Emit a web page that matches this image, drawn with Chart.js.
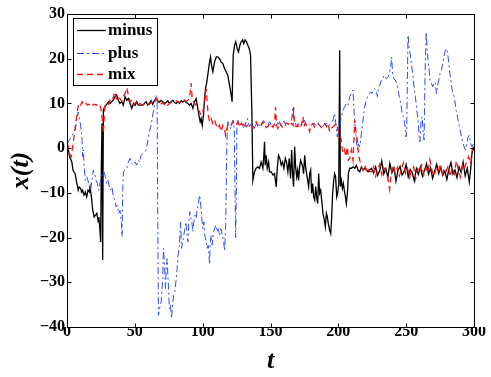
<!DOCTYPE html>
<html><head><meta charset="utf-8">
<script src="https://cdn.jsdelivr.net/npm/chart.js@4.4.1/dist/chart.umd.min.js"></script>
<style>html,body{margin:0;padding:0;background:#fff;}#wrap{width:491px;height:377px;}</style>
</head><body>
<div id="wrap"><canvas id="c" width="491" height="377"></canvas></div>
<script>
const seriesLabels = ['minus', 'plus', 'mix'];
const xTicks = [0, 50, 100, 150, 200, 250, 300];
const yTicks = [-40, -30, -20, -10, 0, 10, 20, 30];

const minusPoints = [[0,1.0],[1,-0.4],[2,-2],[3.5,-3],[4.5,-5],[6,-5.7],[7,-7.5],[8.3,-9.4],[9,-8.7],[10,-9],[10.8,-9.8],[11.5,-9.4],[12.5,-10.5],[13.5,-9.8],[14.5,-10.9],[15.5,-9.4],[16.5,-9.8],[17,-8.7],[18,-10.9],[19,-13.9],[20,-15.4],[21,-15],[22,-14.6],[23,-16.5],[23.5,-15.4],[24.3,-18.3],[24.8,-21],[25.3,-4.2],[25.8,5.5],[26.3,-25],[26.8,8.5],[27.8,9.2],[28.8,9.6],[29.8,10],[30.7,10.4],[31.7,10],[33,10.4],[34,10.7],[35.4,11.5],[36.6,11.9],[37.9,10.7],[39,10],[40.3,10.4],[41.5,9.6],[42.8,11.5],[44,10.7],[45.2,11.1],[46.5,10],[47.7,8.9],[49,10],[50.2,9.6],[51.4,10.4],[52.6,9.6],[55.9,9.6],[58.3,10.4],[59.5,9.6],[60.8,10],[62,10.6],[63.2,9.8],[64.5,10.7],[65.7,11.1],[66.9,10.6],[68.2,10.3],[69.4,10.7],[70.6,10.4],[71.9,10],[73.1,10.2],[74.3,10.6],[75.5,10],[76.8,10.4],[78,10.7],[79.2,10.2],[80.5,10],[81.7,10.4],[82.9,10],[84.2,10.6],[85.4,10.3],[86.6,10.7],[87.8,10.2],[89.1,10],[90.3,9.6],[91.5,10],[92.8,8.9],[94,10.4],[95.2,11.1],[96.4,8.9],[97.2,7.4],[98.2,5.9],[98.9,6.6],[99.7,5.1],[100.6,7.4],[101.4,11.1],[102.1,13.3],[103.1,14.8],[104.1,17.1],[105.1,19.3],[105.8,20.4],[106.5,18.6],[107.5,17.1],[108.8,19.3],[110,20.4],[111.2,20.4],[112.4,20],[113.6,19.3],[114.9,18.9],[116.1,17.8],[117.3,17.1],[118.5,16.3],[119.8,14.1],[121,11.9],[121.7,10.4],[122.5,20.8],[123.5,23],[124.4,23.8],[125.4,22.3],[126.4,21.5],[127.4,23],[128.4,23.8],[129.4,24.2],[130.3,23.4],[131.3,24.2],[132.3,23.8],[133.3,23],[134.3,22.3],[135.3,20.8],[136.3,7.4],[137,-7.2],[138.2,-5.3],[139.4,-4.5],[140.7,-4.2],[141.9,-4.5],[143.1,-3.1],[144.4,-4.5],[145.1,-1.6],[145.6,1.4],[146.1,-3.8],[146.8,-1.6],[147.6,-4.5],[148.6,-3.1],[149.3,-5.3],[150.5,-5.3],[151.8,-6],[153,-5.7],[154.2,-8.7],[155,-4.5],[155.9,-1.6],[156.9,-2.3],[157.9,-3.8],[158.9,-3.1],[159.9,-4.5],[160.9,-2.3],[161.8,-3.1],[162.8,-5.3],[163.8,-2.3],[164.8,-6.8],[165.6,-0.4],[166.3,-5.7],[167,-8.6],[167.8,0.3],[168.5,-4.2],[169.3,-6.4],[170,-4.9],[170.7,-7.2],[171.5,-4.2],[172.2,-2.7],[173,-3.4],[173.7,-4.2],[174.4,-5.7],[175.2,-1.6],[175.9,-4.2],[176.6,-5.7],[177.4,-7.2],[178.1,-8.6],[178.9,-5.7],[179.6,-4.9],[180.3,-10.1],[181.1,-7.9],[181.8,-10.9],[182.6,-11.6],[183.3,-8.6],[184,-10.9],[184.8,-12.4],[185.5,-5.7],[186.2,-10.1],[187,-9.4],[187.7,-11.6],[188.7,-14.6],[189.7,-16.1],[190.4,-17.6],[191.2,-14.6],[191.9,-15.4],[192.6,-16.9],[193.6,-18.3],[194.4,-19.1],[195.1,-15.4],[195.8,-10.1],[196.6,-7.2],[197.3,-5.7],[198,-6.4],[198.8,-10.9],[199.5,-10.1],[200.3,-7.9],[201,21.9],[201.5,-8.6],[202.2,-7.2],[203,-9],[203.7,-7.9],[204.4,-9.4],[205.2,-10.9],[205.9,-12.4],[206.7,-10.1],[207.4,-5.7],[208.4,-4.5],[209.6,-4.5],[210.8,-4.2],[212.1,-4.5],[213.3,-3.8],[214.5,-4.9],[215.8,-5.3],[217,-4.2],[218.2,-4.9],[219.4,-4.5],[220.7,-4.9],[221.9,-5.3],[223.1,-4.9],[224.5,-4.5],[226,-5.6],[227.5,-4.2],[229,-6.1],[230.5,-5],[232,-2.9],[233.5,-5.8],[235,-4.6],[236.5,-6.5],[238,-3.4],[239.5,-5.5],[241,-4.4],[242.5,-7.4],[244,-5],[245.5,-4.1],[247,-6],[248.5,-5.2],[250,-3.7],[251.5,-6.4],[253,-4.8],[254.5,-5.5],[256,-7.3],[257.5,-4.6],[259,-5.9],[260.5,-4.2],[262,-6.3],[263.5,-5],[265,-3.5],[266.5,-5.8],[268,-4.4],[269.5,-6.8],[271,-5.2],[272.5,-3.6],[274,-5.7],[275.5,-4.3],[277,-6.1],[278.5,-5.1],[280,-7],[281.5,-4.7],[283,-3.2],[284.5,-5.8],[286,-4.9],[287.5,-6.6],[289,-4.2],[290.5,-5.4],[292,-3.1],[293.5,-6.2],[295,-4.5],[296.5,-7.5],[297.5,-4.8],[298.5,-1.2],[300,0.3]];

const plusPoints = [[0,1.0],[1.6,1.8],[3.2,2.5],[4.6,3.3],[6.1,4],[7.1,6.3],[8.1,8.1],[9.1,7],[10.1,4.8],[11.1,1.8],[11.5,-1.9],[12,-0.4],[12.5,-3.4],[13.5,-7.2],[14.5,-6.4],[15.5,-7.2],[16.5,-8.7],[17.4,-9.4],[18.4,-7.2],[19.4,-4.9],[20.4,-5.7],[21.4,-7.2],[22.4,-7.9],[23.3,-9.4],[24.3,-7.9],[25.3,-6.4],[26.3,-5.7],[27.3,-5.3],[28.3,-6.4],[29.2,-7.9],[30.2,-7.2],[31.2,-8.7],[32.2,-9.4],[33.2,-8.7],[34.2,-10.9],[35.2,-11.6],[36.2,-13.1],[37.1,-12.7],[38.1,-14.6],[39.1,-13.9],[40.1,-16.9],[40.6,-19.8],[41.1,-9.4],[41.6,-5.3],[42.8,-4.9],[44,-4.6],[45.2,-3.1],[46.5,-2.3],[47.7,-3.4],[48.9,-3.8],[50.2,-3.1],[51.4,-3.8],[52.6,-2.7],[53.8,-3.1],[54.6,-1.6],[55.9,-1.2],[57.1,-0.8],[58.3,-0.4],[59.5,1.4],[60.8,3.7],[62,5.1],[63.2,7.4],[64.5,9.6],[65.7,11.5],[66.4,11.9],[66.9,-15],[67.4,-37.4],[68.2,-35.9],[69.4,-34.4],[70.6,-29],[71.1,-22.4],[71.9,-26],[72.6,-31.4],[73.1,-27],[73.8,-24.7],[74.6,-29.9],[75.5,-35.9],[76.3,-35.1],[77,-38.1],[78,-34.4],[78.7,-32.9],[79.5,-32.1],[80.5,-29.2],[81.2,-26.9],[81.9,-23.9],[82.9,-21.7],[83.7,-16.5],[84.4,-22.4],[85.4,-20.9],[86.1,-19.5],[86.9,-18],[87.6,-16.5],[88.3,-18.7],[89.1,-21],[89.8,-16.5],[90.5,-14.2],[91.3,-15.7],[92,-16.5],[92.8,-18.7],[93.5,-16.5],[94.2,-15],[95.2,-15.7],[96,-13.5],[96.7,-12.8],[97.7,-10.5],[98.4,-12],[99.2,-15],[100.1,-18],[100.9,-16.5],[101.6,-19.5],[102.6,-21],[103.3,-22.4],[104.1,-21.7],[105.1,-26],[105.6,-21],[106.3,-19.5],[107,-21.7],[108,-18.7],[108.8,-18],[109.5,-17.2],[110.5,-18.7],[111.5,-18],[112.4,-19.5],[113.5,-18],[114.5,-19.5],[115.5,-21],[116.2,-23],[117,-17],[117.5,-5],[118,2.5],[118.5,5.9],[119.5,5.1],[120.5,4.4],[121.5,5.5],[122.5,6.3],[123.3,4.4],[123.8,-8],[124.3,-20],[124.8,-10],[125.3,5.5],[126,6.3],[127,5.1],[128.5,5.9],[130,4.6],[131.5,5.4],[133,6.6],[134.5,4.8],[136,5.5],[137.5,4.1],[139,5.2],[140.5,5.8],[142,4.9],[143.5,5.6],[145,6.2],[146.5,4.7],[148,5.3],[149.5,5.9],[151,4.6],[152.5,5.4],[154,5],[155.5,5.7],[157,4.8],[158.5,5.5],[160,6.1],[161.5,4.9],[163,5.3],[164.5,5.6],[165.5,6.3],[166.6,9.2],[167.5,6.2],[169,5.1],[170.5,5.5],[172,4.9],[173.5,5.3],[175,6.3],[176.5,5.1],[178,5.5],[179.5,4.8],[181,5.3],[182.5,5.5],[184,4.9],[185.5,5.6],[187,5.2],[188.5,4.8],[190,5.4],[191.5,5.5],[193,5],[194.5,5.6],[196.1,6.3],[197.3,7.8],[198.5,4.5],[199.3,2.5],[200,4],[201,4.8],[202.2,7],[203.4,8.5],[204.6,9.2],[205.9,10],[207.1,9.6],[208.4,11.5],[209.6,12.2],[210.8,13],[211.5,8.5],[212.3,4.8],[213.3,1.8],[214,-0.4],[214.8,1],[215.8,0.3],[217,3.3],[218.2,6.3],[219.4,9.2],[220.7,10.7],[221.9,11.9],[223.1,12.2],[223.8,12.6],[224.8,12.2],[225.8,13],[226.8,13.3],[227.8,13],[228.8,11.5],[229.7,13.7],[230.7,14.1],[231.7,15.2],[232.7,15.5],[233.7,16.3],[234.7,15.9],[235.6,15.5],[236.6,15.9],[237.6,16.7],[238.6,18.2],[239.3,20.4],[240.1,16.1],[241.1,15.5],[242,15.2],[243,14.5],[244,13],[245,11.5],[246,10],[247,7.8],[247.9,7.1],[248.9,5.5],[249.9,2.5],[250.4,4],[250.9,15.9],[251.4,25.3],[252.1,22.6],[252.9,21.2],[253.8,18.9],[254.8,16.7],[255.8,13.7],[256.8,11.5],[257.8,8.5],[258.8,6.3],[259.5,2.5],[260.2,1.4],[261,6.3],[261.7,7],[262.5,4],[263.2,1.8],[263.9,16],[264.7,26],[265.4,22.6],[266.1,19.7],[266.9,17.5],[267.6,15.2],[268.6,14.5],[269.6,13.7],[270.6,14.8],[271.6,14.5],[272.3,12.2],[273,13.7],[274,15.2],[275,16.7],[276,17.5],[277,19],[277.9,20.4],[278.9,21.9],[279.9,22.3],[280.9,20.4],[281.9,17.5],[282.9,15.2],[283.9,13],[284.8,12.2],[285.8,10.7],[286.8,8.5],[287.8,7],[288.8,5.5],[289.8,4],[290.7,2.5],[291.7,1.4],[292.7,0.3],[293.7,-0.4],[294.7,1],[295.7,2.5],[296.6,2.9],[297.6,1],[298.6,0.3],[299.6,1],[300,1.5]];

const mixPoints = [[0,1.0],[1.2,0.3],[2.2,-1.6],[3.2,-1.9],[4.2,0.3],[5.1,2.5],[6.1,4.8],[7.1,7],[8.1,9.2],[9.1,10],[10.1,9.6],[11.1,10.4],[12,10],[13,9.6],[14,10],[15,9.6],[16,9.8],[17,9.6],[18,10],[19,9.6],[20,9.8],[21.9,9.6],[22.9,10],[23.9,9.6],[24.8,9.2],[25.8,7],[26.8,3.3],[27.3,6.3],[28,9.6],[29.3,10],[30.5,9.8],[31.7,10.7],[33.4,10.4],[34.2,11.5],[35.4,12.6],[36.6,10.7],[37.8,11.3],[39,11.1],[40.3,10.5],[41.5,11.5],[42.8,12.2],[44,13.5],[45.2,11.9],[46.5,10.4],[47.7,10.7],[49,9.6],[50.2,10.1],[51.4,10.4],[52.6,9.8],[53.8,10],[55.9,9.6],[58.3,10.2],[60.8,9.8],[63.2,10.6],[65.7,11.1],[68.2,9.6],[70.6,10.2],[73.1,9.2],[75.5,10],[78,10.4],[80.5,10.6],[82.9,10.2],[85.4,10.8],[87.8,10.4],[90.3,11.1],[91.5,14.5],[92.3,11.1],[94,10],[95.2,9.6],[97.7,8.1],[98.9,7.4],[100.1,8.1],[101.4,10.2],[102.6,13.3],[103.3,10.2],[104.1,7.4],[105.1,5.9],[106.3,6.6],[107.5,5.5],[108.8,6.3],[110,5.1],[111.2,4.4],[112.4,5.1],[113.6,3.7],[114.9,5.1],[116.1,4.4],[116.8,2.9],[117.6,4],[118.5,5.1],[119.8,5.5],[121,5.1],[122.2,5.9],[123.5,5.5],[124.7,5.1],[125.9,5.9],[127.1,4.8],[128.4,5.5],[129.6,5.1],[130.8,5.9],[132.1,4.8],[133.3,5.1],[134.5,5.5],[135.8,5.1],[137,4.5],[138.2,5.5],[139.4,5.9],[140.7,4.8],[141.9,5.3],[143.1,5.1],[144.4,5.8],[145.6,5.5],[146.8,4.6],[148.1,4.8],[149.3,5.6],[150.5,5.1],[151.8,4.7],[153,5.5],[153.7,9.2],[154.5,5.1],[155.4,4.4],[156.7,5.7],[157.9,5.1],[159.1,4.5],[160.4,4.8],[161.6,5.6],[162.8,5.5],[164,4.9],[165.3,5.5],[166.6,5.1],[167,9.2],[167.8,5.1],[169,4.8],[170.3,5.1],[171.5,4.4],[172.7,5.1],[173.9,7],[174.7,4.8],[175.4,5.5],[176.4,5.1],[177.6,4.8],[178.9,3.7],[179.6,5.1],[181.3,5.5],[182.6,4.7],[183.8,4.9],[185,5.4],[186.2,5.1],[187.5,4.6],[188.7,5.1],[190,5.5],[191.2,4.8],[192.4,5.5],[193.6,3.7],[194.9,4.4],[196.1,4.8],[197.3,5.1],[198.5,5.5],[199.8,4],[200.5,3.3],[201.5,2.5],[202.2,1.8],[203,-0.4],[204,-1.2],[204.7,-0.4],[205.4,-1.9],[205.9,-1.2],[206.7,0.3],[207.4,-2.7],[208.4,-2.3],[209.6,-0.4],[210.8,-2.7],[212.1,6.3],[212.8,4],[213.3,3.3],[214,1.6],[214.8,-1.2],[215.8,-2.7],[217,-4.2],[218.2,-4.9],[219.4,-3.8],[220.7,-4.9],[221.9,-4.2],[223.1,-5.3],[224.5,-5.2],[226,-4.1],[227.5,-6.3],[229,-4.8],[230.5,-3.6],[232,-5.9],[233.5,-4.4],[235,-5.1],[236.5,-6.8],[237.8,-9.2],[239,-5.4],[240.5,-3.9],[242,-5.7],[243.5,-4.3],[245,-6.2],[246.5,-4.7],[248,-3.3],[249.5,-5.6],[251,-4.5],[252.5,-6.6],[254,-5],[255.5,-4.2],[257,-6.9],[258.5,-4.6],[260,-5.3],[261.5,-3.8],[263,-6],[264.5,-4.4],[266,-5.5],[267.5,-2.6],[269,-4.9],[270.5,-6.3],[272,-4.7],[273.5,-5.4],[275,-3.5],[276.5,-6.1],[278,-4.6],[279.5,-5.2],[281,-3.9],[282.5,-6.4],[284,-4.3],[285.5,-5.7],[287,-2.8],[288.5,-5],[290,-6.5],[291.5,-3.9],[293,-4.6],[294.5,-3],[296,-1.9],[297.5,-3.5],[299,0.5],[300,0.2]];

const serif = "'Liberation Serif','Times New Roman',Times,serif";
const fmt = v => (v < 0 ? '\u2212' + Math.abs(v) : String(v));
const toXY = pts => pts.map(p => ({x: p[0], y: p[1]}));

const frameTicks = {
  id: 'frameTicks',
  afterDatasetsDraw(chart) {
    const {ctx, chartArea: a, scales: {x, y}} = chart;
    const L = Math.round(a.left) + 0.5, R = Math.round(a.right) + 0.5;
    const T = Math.round(a.top) + 0.5, B = Math.round(a.bottom) + 0.5;
    ctx.save();
    ctx.strokeStyle = '#000';
    ctx.lineWidth = 1;
    ctx.setLineDash([]);
    ctx.beginPath();
    xTicks.forEach(v => {
      const px = Math.round(x.getPixelForValue(v)) + 0.5;
      ctx.moveTo(px, B); ctx.lineTo(px, B - 4);
      ctx.moveTo(px, T); ctx.lineTo(px, T + 4);
    });
    yTicks.forEach(v => {
      const py = Math.round(y.getPixelForValue(v)) + 0.5;
      ctx.moveTo(L, py); ctx.lineTo(L + 4, py);
      ctx.moveTo(R, py); ctx.lineTo(R - 4, py);
    });
    ctx.stroke();
    ctx.strokeRect(L, T, R - L, B - T);
    ctx.restore();
  }
};

const boxLegend = {
  id: 'boxLegend',
  afterDraw(chart) {
    const {ctx, chartArea: a} = chart;
    const bx = Math.round(a.left) + 6.5, by = Math.round(a.top) + 4.5, bw = 84, bh = 67;
    ctx.save();
    ctx.fillStyle = '#fff';
    ctx.fillRect(bx, by, bw, bh);
    ctx.strokeStyle = '#000';
    ctx.lineWidth = 1;
    ctx.setLineDash([]);
    ctx.strokeRect(bx, by, bw, bh);
    const rows = [12, 35, 56];
    chart.data.datasets.forEach((ds, i) => {
      const yy = by + rows[i];
      ctx.strokeStyle = ds.borderColor;
      ctx.lineWidth = ds.borderWidth;
      ctx.setLineDash(ds.borderDash || []);
      ctx.beginPath();
      ctx.moveTo(bx + 3.5, yy); ctx.lineTo(bx + 32.5, yy);
      ctx.stroke();
      ctx.setLineDash([]);
      ctx.fillStyle = '#000';
      ctx.font = 'bold 17px ' + serif;
      ctx.textBaseline = 'middle';
      ctx.textAlign = 'left';
      ctx.fillText(ds.label, bx + 34.5, yy);
    });
    ctx.restore();
  }
};

new Chart(document.getElementById('c'), {
  type: 'line',
  data: {
    datasets: [
      {label: seriesLabels[0], data: toXY(minusPoints), borderColor: '#000000', borderWidth: 1.3, borderDash: [], order: 3},
      {label: seriesLabels[1], data: toXY(plusPoints), borderColor: '#2a4bff', borderWidth: 1.0, borderDash: [7, 3, 2, 3], order: 2},
      {label: seriesLabels[2], data: toXY(mixPoints), borderColor: '#ff1010', borderWidth: 1.3, borderDash: [6, 4], order: 1}
    ]
  },
  options: {
    responsive: false,
    animation: false,
    devicePixelRatio: 1,
    parsing: false,
    layout: {padding: {left: 0, right: 17, top: 14, bottom: 0}},
    elements: {point: {radius: 0}, line: {tension: 0, fill: false}},
    plugins: {legend: {display: false}, tooltip: {enabled: false}},
    scales: {
      x: {
        type: 'linear', min: 0, max: 300,
        afterBuildTicks: s => { s.ticks = xTicks.map(v => ({value: v})); },
        afterFit: s => { s.height = 50; },
        grid: {display: false, drawTicks: false},
        border: {display: false},
        ticks: {color: '#000', padding: -5, maxRotation: 0, autoSkip: false,
          font: {family: serif, size: 16, weight: 'bold'}, callback: v => fmt(v)},
        title: {display: true, text: 't', color: '#000',
          font: {family: serif, size: 26, weight: 'bold', style: 'italic'},
          padding: {top: 0, bottom: 0}}
      },
      y: {
        type: 'linear', min: -40, max: 30,
        afterBuildTicks: s => { s.ticks = yTicks.map(v => ({value: v})); },
        afterFit: s => { s.width = 67; },
        grid: {display: false, drawTicks: false},
        border: {display: false},
        ticks: {color: '#000', padding: 2, autoSkip: false,
          font: {family: serif, size: 16, weight: 'bold'}, callback: v => fmt(v)},
        title: {display: true, text: 'x(t)', color: '#000',
          font: {family: serif, size: 26, weight: 'bold', style: 'italic'},
          padding: {top: 6, bottom: 0}}
      }
    }
  },
  plugins: [frameTicks, boxLegend]
});
</script>
</body></html>
